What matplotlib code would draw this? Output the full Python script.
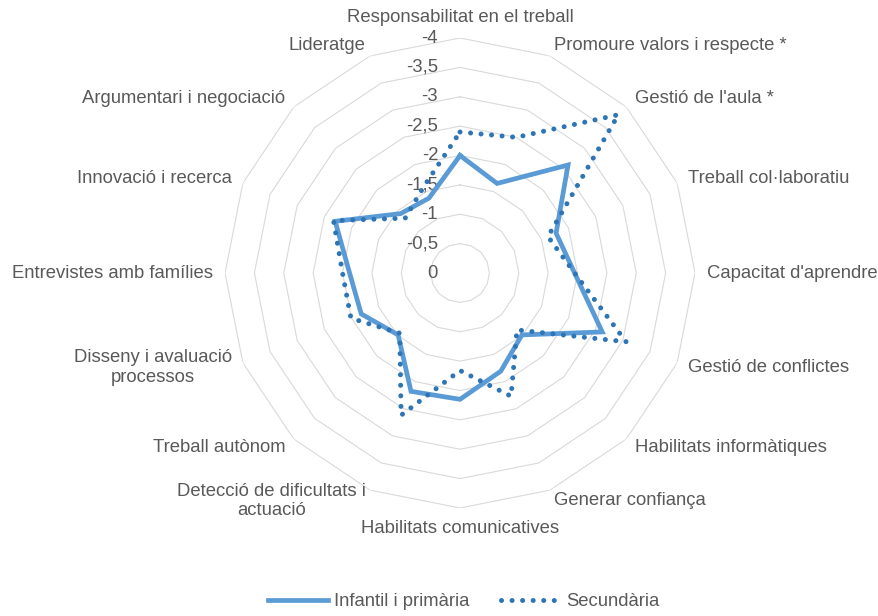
import numpy as np
import matplotlib
matplotlib.use("Agg")
import matplotlib.pyplot as plt
from matplotlib.transforms import offset_copy

plt.rcParams['font.family'] = ['Liberation Sans', 'DejaVu Sans']

categories = [
    "Responsabilitat en el treball",
    "Promoure valors i respecte *",
    "Gestió de l'aula *",
    "Treball col·laboratiu",
    "Capacitat d'aprendre",
    "Gestió de conflictes",
    "Habilitats informàtiques",
    "Generar confiança",
    "Habilitats comunicatives",
    "Detecció de dificultats i\nactuació",
    "Treball autònom",
    "Disseny i avaluació\nprocessos",
    "Entrevistes amb famílies",
    "Innovació i recerca",
    "Argumentari i negociació",
    "Lideratge",
]

infantil = [-2.0, -1.65, -2.6, -1.77, -1.95, -2.62, -1.49, -1.81,
            -2.15, -2.18, -1.49, -1.82, -1.88, -2.3, -1.43, -1.38]
secundaria = [-2.4, -2.5, -3.81, -1.62, -1.95, -3.06, -1.37, -2.27,
              -1.66, -2.62, -1.45, -2.01, -2.0, -2.33, -1.32, -1.6]

levels = [0, -0.5, -1, -1.5, -2, -2.5, -3, -3.5, -4]
level_labels = ["0", "-0,5", "-1", "-1,5", "-2", "-2,5", "-3", "-3,5", "-4"]

text_color = "#595959"
grid_color = "#D9D9D9"
fs = 13.3

n = len(categories)
theta = np.linspace(0, 2 * np.pi, n, endpoint=False)
theta_c = np.append(theta, theta[0])

fig = plt.figure(figsize=(8.79, 6.16), dpi=100)
ax = fig.add_axes([0.256, 0.1753, 0.5347, 0.763], projection='polar')
ax.set_theta_zero_location('N')
ax.set_theta_direction(-1)
ax.set_ylim(0, 4)
ax.grid(False)
ax.spines['polar'].set_visible(False)
ax.set_xticks([])
ax.set_yticks([])
ax.patch.set_alpha(0)

# polygon rings (radius = minus the value, axis reversed as in the original)
for lv in levels[1:]:
    ax.plot(theta_c, [-lv] * (n + 1), color=grid_color, lw=0.8, zorder=1)

# radial labels
lab_tr = offset_copy(ax.transData, fig=fig, x=-22, y=0, units='dots')
for lv, lab in zip(levels, level_labels):
    ax.text(0, -lv, lab, transform=lab_tr, ha='right', va='center',
            fontsize=fs, color=text_color)

# category labels
for t, cat in zip(theta, categories):
    s, c = np.sin(t), np.cos(t)
    if abs(s) < 0.01:
        ha = 'center'
        va = 'bottom' if c > 0 else 'top'
    else:
        ha = 'left' if s > 0 else 'right'
        va = 'center'
    ax.text(t, 4.2, cat, ha=ha, va=va, multialignment='center',
            fontsize=fs, color=text_color, clip_on=False)

r_inf = -np.array(infantil + infantil[:1])
r_sec = -np.array(secundaria + secundaria[:1])

ax.plot(theta_c, r_inf, color="#5B9BD5", lw=3.4, solid_joinstyle='miter',
        label="Infantil i primària", zorder=3, clip_on=False)
ax.plot(theta_c, r_sec, color="#2E75B6", lw=3.6, linestyle=(0, (0.01, 2.1)),
        dash_capstyle='round', label="Secundària", zorder=4, clip_on=False)

leg = fig.legend(loc='center', bbox_to_anchor=(464 / 879, 1 - 602 / 616),
                 ncol=2, frameon=False, fontsize=fs, handlelength=3.25,
                 handletextpad=0.3, columnspacing=1.7)
for t in leg.get_texts():
    t.set_color(text_color)

fig.savefig("out.png", dpi=100)
